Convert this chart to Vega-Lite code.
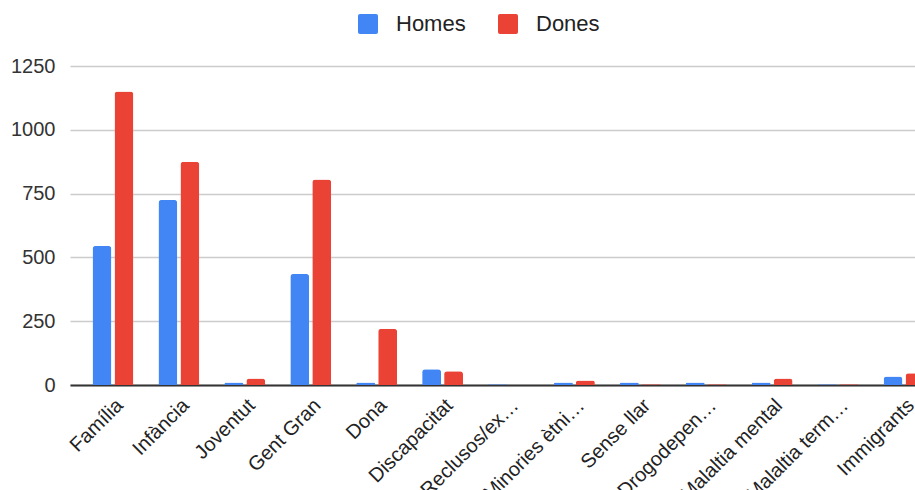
{
  "$schema": "https://vega.github.io/schema/vega-lite/v6.json",
  "width": 877,
  "height": 319,
  "padding": {"left": 10, "top": 13, "right": 0, "bottom": 5},
  "background": "white",
  "config": {
    "view": {"stroke": null},
    "font": "Liberation Sans"
  },
  "data": {
    "values": [
      {"cat": "Família", "sexe": "Homes", "valor": 545},
      {"cat": "Família", "sexe": "Dones", "valor": 1150},
      {"cat": "Infància", "sexe": "Homes", "valor": 725},
      {"cat": "Infància", "sexe": "Dones", "valor": 875},
      {"cat": "Joventut", "sexe": "Homes", "valor": 10},
      {"cat": "Joventut", "sexe": "Dones", "valor": 25},
      {"cat": "Gent Gran", "sexe": "Homes", "valor": 435},
      {"cat": "Gent Gran", "sexe": "Dones", "valor": 805},
      {"cat": "Dona", "sexe": "Homes", "valor": 10},
      {"cat": "Dona", "sexe": "Dones", "valor": 220},
      {"cat": "Discapacitat", "sexe": "Homes", "valor": 62},
      {"cat": "Discapacitat", "sexe": "Dones", "valor": 54},
      {"cat": "Reclusos/exreclusos", "sexe": "Homes", "valor": 3},
      {"cat": "Reclusos/exreclusos", "sexe": "Dones", "valor": 0},
      {"cat": "Minories ètniques", "sexe": "Homes", "valor": 10},
      {"cat": "Minories ètniques", "sexe": "Dones", "valor": 18},
      {"cat": "Sense llar", "sexe": "Homes", "valor": 10},
      {"cat": "Sense llar", "sexe": "Dones", "valor": 3},
      {"cat": "Drogodependències", "sexe": "Homes", "valor": 10},
      {"cat": "Drogodependències", "sexe": "Dones", "valor": 3},
      {"cat": "Malaltia mental", "sexe": "Homes", "valor": 10},
      {"cat": "Malaltia mental", "sexe": "Dones", "valor": 25},
      {"cat": "Malaltia terminal", "sexe": "Homes", "valor": 3},
      {"cat": "Malaltia terminal", "sexe": "Dones", "valor": 3},
      {"cat": "Immigrants", "sexe": "Homes", "valor": 33},
      {"cat": "Immigrants", "sexe": "Dones", "valor": 46}
    ]
  },
  "mark": {"type": "bar", "cornerRadiusTopLeft": 3, "cornerRadiusTopRight": 3},
  "encoding": {
    "x": {
      "field": "cat",
      "type": "nominal",
      "sort": null,
      "scale": {"paddingInner": 0.38, "paddingOuter": 0.342},
      "axis": {
        "title": null,
        "labelAngle": -45,
        "labelAlign": "right",
        "labelBaseline": "middle",
        "labelFontSize": 20,
        "labelColor": "#222222",
        "labelPadding": 17,
        "labelOffset": 7,
        "labelLimit": 0,
        "labelExpr": "datum.label == 'Reclusos/exreclusos' ? 'Reclusos/ex…' : datum.label == 'Minories ètniques' ? 'Minories ètni…' : datum.label == 'Drogodependències' ? 'Drogodepen…' : datum.label == 'Malaltia terminal' ? 'Malaltia term…' : datum.label",
        "ticks": false,
        "domainColor": "#333333",
        "domainWidth": 2,
        "grid": false
      }
    },
    "xOffset": {
      "field": "sexe",
      "type": "nominal",
      "scale": {"domain": ["Homes", "Dones"], "paddingInner": 0.14}
    },
    "y": {
      "field": "valor",
      "type": "quantitative",
      "scale": {"domain": [0, 1250], "nice": false},
      "axis": {
        "title": null,
        "values": [0, 250, 500, 750, 1000, 1250],
        "format": "d",
        "labelFontSize": 20,
        "labelColor": "#333333",
        "labelPadding": 15,
        "ticks": false,
        "domain": false,
        "gridColor": "#cccccc",
        "gridWidth": 1.5
      }
    },
    "color": {
      "field": "sexe",
      "type": "nominal",
      "scale": {"domain": ["Homes", "Dones"], "range": ["#4285F4", "#EA4335"]},
      "legend": {
        "title": null,
        "orient": "none",
        "direction": "horizontal",
        "legendX": 287,
        "legendY": -53,
        "padding": 0,
        "symbolType": "M-0.8,-1L0.8,-1Q1,-1 1,-0.8L1,0.8Q1,1 0.8,1L-0.8,1Q-1,1 -1,0.8L-1,-0.8Q-1,-1 -0.8,-1Z",
        "symbolSize": 400,
        "symbolStrokeWidth": 0,
        "symbolOpacity": 1,
        "labelFontSize": 22,
        "labelColor": "#222222",
        "labelOffset": 17,
        "columnPadding": 31
      }
    }
  }
}
